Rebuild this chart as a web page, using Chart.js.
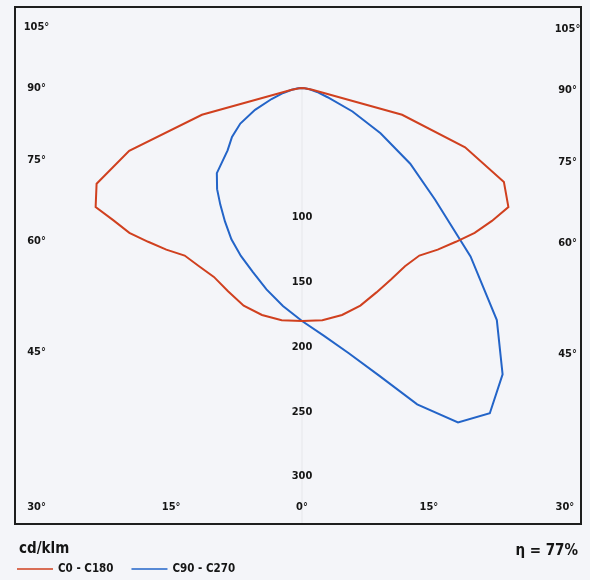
<!DOCTYPE html>
<html>
<head>
<meta charset="utf-8">
<script src="https://cdn.jsdelivr.net/npm/chart.js@4.4.1/dist/chart.umd.min.js"></script>
<style>
  html, body { margin: 0; padding: 0; background: #f4f5f9; }
  #wrap { width: 590px; height: 580px; }
</style>
</head>
<body>
<div id="wrap"><canvas id="polarChart" width="590" height="580"></canvas></div>
<script>
// gamma angles in degrees, negative = C180 / C270 half
const gammaAngles = [-90, -85, -80, -75, -70, -65, -60, -55, -50, -45, -40, -35, -30, -25, -20, -15, -10, -5,
  0, 5, 10, 15, 20, 25, 30, 35, 40, 45, 50, 55, 60, 65, 70, 75, 80, 85, 90];

// luminous intensity, cd/klm
const c0c180 = [0, 2, 8, 80, 142, 175, 184, 178, 174, 168, 163, 158, 159, 161, 167, 174, 178, 180,
  180, 180, 178, 174, 168, 163, 159, 158, 163, 168, 174, 179, 184, 172, 134, 80, 8, 2, 0];
const c90c270 = [0, 3, 8, 15, 25, 40, 55, 66, 75, 93, 102, 110, 119, 129, 138, 147, 158, 169,
  180, 192, 208, 230, 260, 285, 290, 270, 234, 184, 134, 102, 70, 43, 21, 12, 6, 2, 0];

const seriesNames = ['C0 - C180', 'C90 - C270'];
const radialTicks = [100, 150, 200, 250, 300];
const sideTickLabels = ['105°', '90°', '75°', '60°', '45°'];
const bottomTickLabels = ['30°', '15°', '0°', '15°', '30°'];
const unitLabel = 'cd/klm';
const efficiencyLabel = 'η = 77%';

// where the angle labels sit (data units)
const sideLabelY = [47, 0, -56, -118, -204];
const bottomLabelX = [-205, -101, 0, 98, 203];

const FONT = "'DejaVu Sans Condensed', 'DejaVu Sans', sans-serif";

function polarPoints(values) {
  return gammaAngles.map((g, i) => {
    const rad = g * Math.PI / 180;
    return { x: values[i] * Math.sin(rad), y: -values[i] * Math.cos(rad) };
  });
}

const diagramDecor = {
  id: 'diagramDecor',
  beforeDraw(chart) {
    const ctx = chart.ctx;
    const area = chart.chartArea;
    const xs = chart.scales.x, ys = chart.scales.y;
    ctx.save();
    ctx.fillStyle = '#f4f5f9';
    ctx.fillRect(0, 0, chart.width, chart.height);
    // faint centre line
    ctx.strokeStyle = 'rgba(0,0,0,0.06)';
    ctx.lineWidth = 1;
    ctx.beginPath();
    ctx.moveTo(xs.getPixelForValue(0), ys.getPixelForValue(0));
    ctx.lineTo(xs.getPixelForValue(0), area.bottom);
    ctx.stroke();
    ctx.restore();
  },
  afterDraw(chart) {
    const ctx = chart.ctx;
    const area = chart.chartArea;
    const xs = chart.scales.x, ys = chart.scales.y;
    ctx.save();

    ctx.strokeStyle = '#1e1e1e';
    ctx.lineWidth = 2;
    ctx.strokeRect(area.left, area.top, area.right - area.left, area.bottom - area.top);

    ctx.fillStyle = '#151515';
    ctx.font = 'bold 11px ' + FONT;
    ctx.textAlign = 'center';
    ctx.textBaseline = 'middle';

    sideTickLabels.forEach((t, i) => {
      const y = ys.getPixelForValue(sideLabelY[i]);
      ctx.fillText(t, xs.getPixelForValue(-205), y);
      ctx.fillText(t, xs.getPixelForValue(205), y + 2);
    });
    bottomTickLabels.forEach((t, i) => {
      ctx.fillText(t, xs.getPixelForValue(bottomLabelX[i]), ys.getPixelForValue(-324));
    });
    radialTicks.forEach(v => {
      ctx.fillText(String(v), xs.getPixelForValue(0), ys.getPixelForValue(-v));
    });

    // legend
    ctx.textAlign = 'left';
    ctx.font = 'bold 15px ' + FONT;
    ctx.fillText(unitLabel, 19, 549);
    ctx.textAlign = 'right';
    ctx.fillText(efficiencyLabel, 578, 551);

    ctx.textAlign = 'left';
    ctx.font = 'bold 11.5px ' + FONT;
    let x = 17;
    chart.data.datasets.forEach(ds => {
      ctx.strokeStyle = ds.borderColor;
      ctx.lineWidth = 1.5;
      ctx.beginPath();
      ctx.moveTo(x, 569);
      ctx.lineTo(x + 36, 569);
      ctx.stroke();
      ctx.fillText(ds.label, x + 41, 569);
      x += 41 + ctx.measureText(ds.label).width + 18;
    });
    ctx.restore();
  }
};

new Chart(document.getElementById('polarChart'), {
  type: 'scatter',
  data: {
    datasets: [
      {
        label: seriesNames[0],
        data: polarPoints(c0c180),
        borderColor: '#d0401f',
        backgroundColor: '#d0401f',
        borderWidth: 2,
        showLine: true,
        pointRadius: 0,
        tension: 0
      },
      {
        label: seriesNames[1],
        data: polarPoints(c90c270),
        borderColor: '#2364c8',
        backgroundColor: '#2364c8',
        borderWidth: 2,
        showLine: true,
        pointRadius: 0,
        tension: 0
      }
    ]
  },
  options: {
    responsive: false,
    animation: false,
    devicePixelRatio: 1,
    layout: { padding: { left: 15, right: 9, top: 7, bottom: 56 } },
    scales: {
      x: { type: 'linear', min: -221.6, max: 215.4, display: false },
      y: { type: 'linear', min: -336.7, max: 62.5, display: false }
    },
    plugins: {
      legend: { display: false },
      tooltip: { enabled: false }
    }
  },
  plugins: [diagramDecor]
});
</script>
</body>
</html>
